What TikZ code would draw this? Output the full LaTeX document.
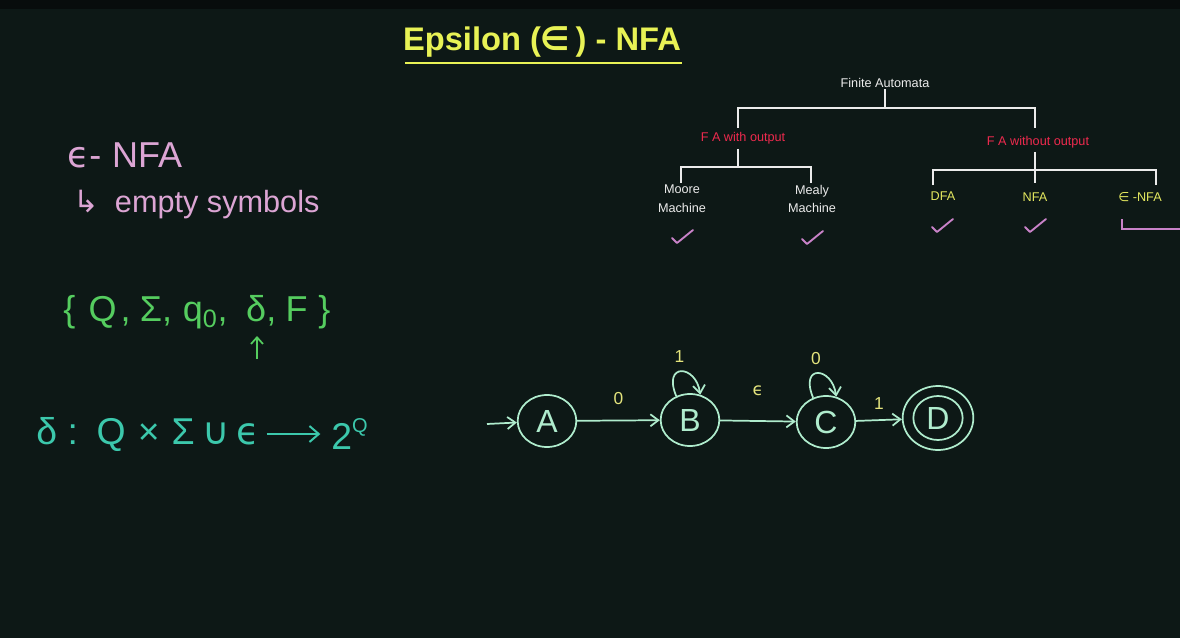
\documentclass[tikz,border=0pt]{standalone}
\usepackage{fontspec}
\setmainfont{Liberation Sans}
\newfontfamily\sym{DejaVu Sans}
\usetikzlibrary{arrows.meta,shapes.geometric}
\definecolor{bgc}{RGB}{13,24,22}
\definecolor{topbar}{RGB}{8,12,12}
\definecolor{titley}{RGB}{232,242,85}
\definecolor{treew}{RGB}{235,235,235}
\definecolor{treer}{RGB}{238,42,78}
\definecolor{treey}{RGB}{228,232,95}
\definecolor{chk}{RGB}{200,130,200}
\definecolor{pinkt}{RGB}{220,165,212}
\definecolor{greent}{RGB}{85,205,95}
\definecolor{tealt}{RGB}{60,200,172}
\definecolor{autc}{RGB}{175,236,205}
\definecolor{laby}{RGB}{228,228,125}
\tikzset{
  treeline/.style={draw=treew, line width=1.1pt},
  treetext/.style={text=treew, font=\fontsize{9.5}{11}\selectfont, align=center, inner sep=1pt},
  redtext/.style={text=treer, font=\fontsize{9.5}{11}\selectfont, inner sep=1pt},
  yeltext/.style={text=treey, font=\fontsize{9.5}{11}\selectfont, inner sep=1pt},
  check/.style={draw=chk, line width=1.4pt, line cap=round, line join=round},
  state/.style={ellipse, draw=autc, line width=1.3pt, minimum width=44pt, minimum height=39pt, inner sep=0pt, text=autc, font=\fontsize{24}{24}\selectfont},
  arr/.style={draw=autc, line width=1.3pt, -{Straight Barb[length=6pt,width=9pt]}},
  lab/.style={text=laby, font=\fontsize{13}{13}\selectfont, inner sep=1pt},
  hand/.style={anchor=west, inner sep=0pt},
}
\begin{document}
\begin{tikzpicture}[x=0.75pt,y=-0.75pt]
\fill[bgc] (0,0) rectangle (1180,638);
\fill[topbar] (0,0) rectangle (1180,9);
\useasboundingbox (0,0) rectangle (1180,638);

% title
\node[text=titley, font=\fontsize{24.5}{26}\selectfont\bfseries] (title) at (542,42) {Epsilon ({\sym ∈}\,) - NFA};
\draw[titley, line width=2.2pt] (405,63) -- (682,63);

% tree
\node[treetext] (fa) at (885,83) {Finite Automata};
\node[redtext] (with) at (743,138) {F A with output};
\node[redtext] (wo) at (1038,142) {F A without output};
\node[treetext] (moore) at (682,199) {Moore\\[3pt]Machine};
\node[treetext] (mealy) at (812,199) {Mealy\\[3pt]Machine};
\node[yeltext] (dfa) at (943,196) {DFA};
\node[yeltext] (nfa) at (1035,197) {NFA};
\node[yeltext] (enfa2) at (1140,197) {{\sym ∈} -NFA};
\coordinate (bar1) at (0,108);
\draw[treeline] (fa.south) -- (fa.south |- bar1);
\draw[treeline] (738,128) -- (738,108) -- (1035,108) -- (1035,128);
\draw[treeline] (738,149) -- (738,167);
\draw[treeline] (681,183) -- (681,167) -- (811,167) -- (811,183);
\draw[treeline] (1035,152) -- (1035,183);
\draw[treeline] (933,185) -- (933,170) -- (1156,170) -- (1156,185);
% checks
\foreach \cx/\cy in {682/237, 812/238, 942/226, 1035/226}{
  \draw[check] (\cx-10,\cy+1) -- (\cx-5,\cy+6) -- (\cx+11,\cy-7);
}
\draw[chk, line width=1.4pt] (1122,219) -- (1122,229) -- (1180,229);

% left notes
\node[hand, text=pinkt, font=\fontsize{27}{28}\selectfont] (enfa) at (67,155) {{\sym ϵ}-\hspace{8pt}NFA};
\node[hand, text=pinkt, font=\fontsize{23}{24}\selectfont] (empty) at (73,205) {{\sym ↳}\hspace{12pt}empty symbols};
\node[hand, text=greent, font=\fontsize{27}{28}\selectfont] (set) at (63,312) {\{\hspace{10pt}Q\hspace{3pt},\hspace{7pt}Σ,\hspace{8pt}q\textsubscript{0},\hspace{14pt}δ,\hspace{7pt}F\hspace{8pt}\}};
\coordinate (up0) at (257,359);
\coordinate (up1) at (257,336);
\draw[greent, line width=1.3pt, -{Straight Barb[length=5pt,width=9pt]}] (up0) -- (up1);
\node[hand, text=tealt, font=\fontsize{28}{29}\selectfont] (dl) at (36,434) {δ\hspace{8pt}:\hspace{14pt}Q\hspace{9pt}×\hspace{9pt}Σ\hspace{6pt}{\sym ∪}\hspace{5pt}{\sym ϵ}};
\node[hand, text=tealt, font=\fontsize{28}{29}\selectfont] (two) at (331,434) {2\raisebox{0.45em}{\fontsize{15}{15}\selectfont Q}};
\draw[tealt, line width=1.5pt, -{Straight Barb[length=7pt,width=12pt]}, shorten <=5pt, shorten >=8pt] (dl.east) -- (two.west);

% automaton
\node[state] (A) at (547,421) {A};
\node[state] (B) at (690,420) {B};
\node[state] (C) at (826,422) {C};
\node[state, minimum width=53pt, minimum height=48pt] (D) at (938,418) {};
\node[state, minimum width=37pt, minimum height=33pt] (Din) at (938,418) {D};
\coordinate (init) at (487,424);
\draw[arr] (init) -- (A);
\draw[arr] (A) -- node[lab, above=10pt] {0} (B);
\draw[arr] (B) -- node[lab, above=17pt] {{\sym ϵ}} (C);
\draw[arr] (C) -- node[lab, above=6pt] {1} (D);
\draw[arr] (B.120) .. controls +(-14,-34) and +(-4,-30) .. node[lab, pos=0.45, above=5pt] {1} (B.68);
\draw[arr] (C.118) .. controls +(-14,-34) and +(-4,-30) .. node[lab, pos=0.45, above=5pt] {0} (C.68);
\end{tikzpicture}
\end{document}
